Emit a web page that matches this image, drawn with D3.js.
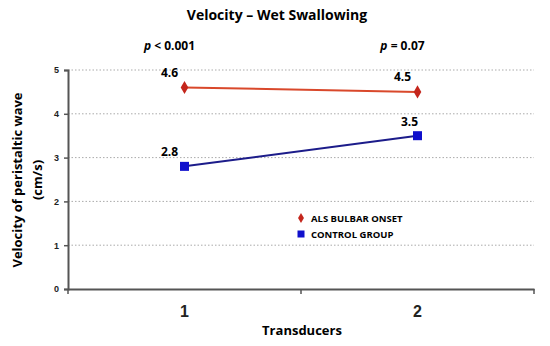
<!DOCTYPE html>
<html>
<head>
<meta charset="utf-8">
<script src="https://cdn.jsdelivr.net/npm/d3@7"></script>
<style>
  body { margin: 0; background: #fff; }
  svg { font-family: "Open Sans", "DejaVu Sans", sans-serif; }
</style>
</head>
<body>
<svg id="chart" width="550" height="346"></svg>
<script>
// data
let transducers = ["1", "2"];
let alsValues = [4.6, 4.5];
let controlValues = [2.8, 3.5];
let pLabels = ["< 0.001", "= 0.07"];
let yTicks = [0, 1, 2, 3, 4, 5];
let seriesNames = ["ALS BULBAR ONSET", "CONTROL GROUP"];

let svg = d3.select("#chart");
let margin = { top: 70, right: 16, bottom: 57, left: 68 };
let width = 550 - margin.left - margin.right;
let height = 346 - margin.top - margin.bottom;

let x = d3.scaleBand().domain(transducers).range([0, width]);
let y = d3.scaleLinear().domain([0, 5]).range([height, 0]);

// title
svg.append("text")
    .attr("x", 277).attr("y", 20)
    .attr("text-anchor", "middle")
    .style("font-size", "14px").style("font-weight", "bold")
    .text("Velocity \u2013 Wet Swallowing");

let g = svg.append("g")
    .attr("transform", "translate(" + margin.left + "," + margin.top + ")");

// dotted grid
g.selectAll(".grid").data(yTicks.slice(1)).enter()
    .append("line")
    .attr("x1", 0).attr("x2", width)
    .attr("y1", d => y(d)).attr("y2", d => y(d))
    .attr("stroke", "#aaa").attr("stroke-width", 1)
    .attr("stroke-dasharray", "1.5,2");

// y axis
let yAxis = g.append("g")
    .call(d3.axisLeft(y).tickValues(yTicks).tickSize(4).tickFormat(d3.format("d")));
yAxis.select(".domain").attr("stroke", "#555").attr("stroke-width", 2);
yAxis.selectAll(".tick line").attr("stroke", "#555").attr("stroke-width", 1.5);
yAxis.selectAll("text").style("font-size", "9px").style("font-weight", "bold")
    .attr("fill", "#222").attr("x", -9);

// x axis with ticks at band boundaries
let xAxis = g.append("g")
    .attr("transform", "translate(0," + height + ")")
    .call(d3.axisBottom(x).tickSize(0).tickPadding(17));
xAxis.select(".domain").attr("stroke", "#555").attr("stroke-width", 2);
xAxis.selectAll("text").style("font-size", "16px").style("font-weight", "bold").attr("fill", "#222");
let bounds = [0, x(transducers[1]), width];
xAxis.selectAll(".bound").data(bounds).enter()
    .append("line")
    .attr("x1", d => d).attr("x2", d => d)
    .attr("y1", 0).attr("y2", 5)
    .attr("stroke", "#555").attr("stroke-width", 1.5);

// axis titles
svg.append("text")
    .attr("x", 302).attr("y", 335)
    .attr("text-anchor", "middle")
    .style("font-size", "13px").style("font-weight", "bold")
    .text("Transducers");

let yTitle = svg.append("text")
    .attr("transform", "translate(22,180) rotate(-90)")
    .attr("text-anchor", "middle")
    .style("font-size", "13px").style("font-weight", "bold");
yTitle.append("tspan").attr("x", 0).attr("dy", 0).text("Velocity of peristaltic wave");
yTitle.append("tspan").attr("x", 0).attr("dy", 20).text("(cm/s)");

let cx = d => x(d) + x.bandwidth() / 2;

// lines
let line = d3.line().x((d, i) => cx(transducers[i])).y(d => y(d));
g.append("path").datum(alsValues)
    .attr("fill", "none").attr("stroke", "#d9482b").attr("stroke-width", 2)
    .attr("d", line);
g.append("path").datum(controlValues)
    .attr("fill", "none").attr("stroke", "#1c1c8a").attr("stroke-width", 2)
    .attr("d", line);

// markers
let diamond = d3.symbol().type(d3.symbolDiamond).size(50);
g.selectAll(".als").data(alsValues).enter()
    .append("path")
    .attr("d", diamond)
    .attr("transform", (d, i) => "translate(" + cx(transducers[i]) + "," + y(d) + ")")
    .attr("fill", "#c4261c");
g.selectAll(".ctrl").data(controlValues).enter()
    .append("rect")
    .attr("x", (d, i) => cx(transducers[i]) - 4.5)
    .attr("y", d => y(d) - 4.5)
    .attr("width", 9).attr("height", 9)
    .attr("fill", "#1010cc");

// value labels
g.selectAll(".alsLabel").data(alsValues).enter()
    .append("text")
    .attr("x", (d, i) => cx(transducers[i]) - 15)
    .attr("y", d => y(d) - 11)
    .attr("text-anchor", "middle")
    .style("font-size", "12px").style("font-weight", "bold")
    .text(d => d.toFixed(1));
g.selectAll(".ctrlLabel").data(controlValues).enter()
    .append("text")
    .attr("x", (d, i) => cx(transducers[i]) - (i === 0 ? 15 : 8))
    .attr("y", d => y(d) - 10)
    .attr("text-anchor", "middle")
    .style("font-size", "12px").style("font-weight", "bold")
    .text(d => d.toFixed(1));

// p values
let pText = g.selectAll(".pLabel").data(pLabels).enter()
    .append("text")
    .attr("x", (d, i) => cx(transducers[i]) - 15)
    .attr("y", -20)
    .attr("text-anchor", "middle")
    .style("font-size", "12px").style("font-weight", "bold");
pText.append("tspan").style("font-style", "italic").text("p");
pText.append("tspan").text(d => " " + d);

// legend
let legend = svg.append("g").attr("transform", "translate(301,218)");
legend.append("path")
    .attr("d", d3.symbol().type(d3.symbolDiamond).size(30))
    .attr("fill", "#c4261c");
legend.append("rect")
    .attr("x", -3.5).attr("y", 12.5).attr("width", 7).attr("height", 7)
    .attr("fill", "#1010cc");
legend.selectAll(".lt").data(seriesNames).enter()
    .append("text")
    .attr("x", 10).attr("y", (d, i) => i * 16 + 3.5)
    .style("font-size", "9.5px").style("font-weight", "bold")
    .text(d => d);
</script>
</body>
</html>
